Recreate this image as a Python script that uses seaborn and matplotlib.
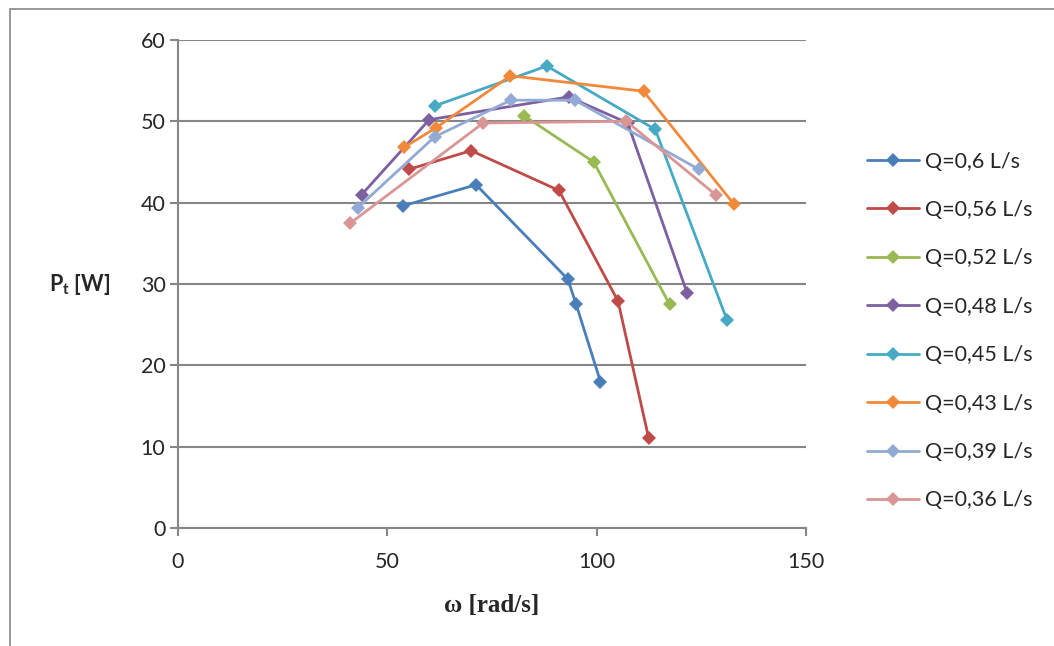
import numpy as np
import pandas as pd
import matplotlib
matplotlib.use("Agg")
import matplotlib.pyplot as plt
import seaborn as sns
from matplotlib.patches import Rectangle

# omega [rad/s] and P_t [W] for each flow rate
labels = ["Q=0,6 L/s", "Q=0,56 L/s", "Q=0,52 L/s", "Q=0,48 L/s",
          "Q=0,45 L/s", "Q=0,43 L/s", "Q=0,39 L/s", "Q=0,36 L/s"]

w_06 = [53.7, 71.2, 93.1, 95.1, 100.9]
p_06 = [39.6, 42.2, 30.6, 27.5, 18.0]
w_056 = [55.2, 70.0, 91.0, 105.1, 112.4]
p_056 = [44.1, 46.4, 41.5, 27.9, 11.1]
w_052 = [82.6, 99.3, 117.4]
p_052 = [50.7, 45.0, 27.5]
w_048 = [43.9, 60.0, 93.3, 107.4, 121.6]
p_048 = [41.0, 50.2, 53.0, 49.8, 28.9]
w_045 = [61.3, 88.1, 114.0, 131.1]
p_045 = [51.9, 56.8, 49.0, 25.6]
w_043 = [54.0, 61.6, 79.4, 111.2, 132.8]
p_043 = [46.8, 49.2, 55.6, 53.7, 39.8]
w_039 = [43.0, 61.3, 79.5, 94.8, 124.4]
p_039 = [39.4, 48.1, 52.6, 52.6, 44.1]
w_036 = [41.2, 72.9, 107.1, 128.6]
p_036 = [37.5, 49.8, 50.0, 40.9]

omegas = [w_06, w_056, w_052, w_048, w_045, w_043, w_039, w_036]
powers = [p_06, p_056, p_052, p_048, p_045, p_043, p_039, p_036]

colors = ["#4A7EBB", "#BE4B48", "#98B954", "#7D60A0",
          "#46AAC5", "#F08A3A", "#93AAD4", "#D99694"]

rows = []
for lab, ws, ps in zip(labels, omegas, powers):
    for w, p in zip(ws, ps):
        rows.append({"omega": w, "P": p, "Q": lab})
df = pd.DataFrame(rows)

sns.set_style("white")
plt.rcParams["font.family"] = ["Lato", "DejaVu Sans"]
plt.rcParams["mathtext.fontset"] = "custom"
plt.rcParams["mathtext.rm"] = "Lato"
plt.rcParams["mathtext.bf"] = "Lato:bold"

fig = plt.figure(figsize=(10.54, 6.46), dpi=100)
ax = fig.add_axes([178 / 1054, 1 - 528 / 646, 628 / 1054, 488 / 646])

sns.lineplot(data=df, x="omega", y="P", hue="Q", hue_order=labels,
             palette=colors, marker="D", markersize=7.5, markeredgewidth=0,
             linewidth=2, estimator=None, sort=False, ax=ax)

ax.set_xlim(0, 150)
ax.set_ylim(0, 60)
ax.set_xticks([0, 50, 100, 150])
ax.set_yticks(range(0, 61, 10))
ax.yaxis.grid(True, color="#868686", linewidth=1.5)
ax.xaxis.grid(False)
for s in ["top", "right"]:
    ax.spines[s].set_visible(False)
for s in ["left", "bottom"]:
    ax.spines[s].set_color("#868686")
    ax.spines[s].set_linewidth(1.5)
ax.tick_params(axis="both", which="major", length=6, width=1.5,
               color="#868686", labelsize=15.5, direction="out",
               left=True, bottom=True)
ax.tick_params(axis="x", pad=11)
ax.tick_params(axis="y", pad=3)

ax.set_xlabel("ω [rad/s]", fontsize=18, fontweight="bold",
              family=["Liberation Serif", "DejaVu Serif"], va="center")
ax.xaxis.set_label_coords(0.5, -0.158)
ax.set_ylabel(r"$\mathbf{P_t}$ [W]", fontsize=15.5, fontweight="bold",
              rotation=0, ha="center", va="center")
ax.yaxis.set_label_coords(-0.156, 0.498)

leg = ax.legend(loc="center left", frameon=False, fontsize=15.5,
                labelspacing=1.32, handlelength=2.4, handletextpad=0.3,
                borderpad=0, borderaxespad=0)
leg.set_bbox_to_anchor(((867 - 178) / 628, (528 - 331) / 488),
                       transform=ax.transAxes)

fig.patches.append(Rectangle((10 / 1054, -0.1), 1.2, 1.1 - 9 / 646,
                             transform=fig.transFigure, fill=False,
                             edgecolor="#868686", linewidth=1.2))

fig.savefig("out.png", dpi=100)
